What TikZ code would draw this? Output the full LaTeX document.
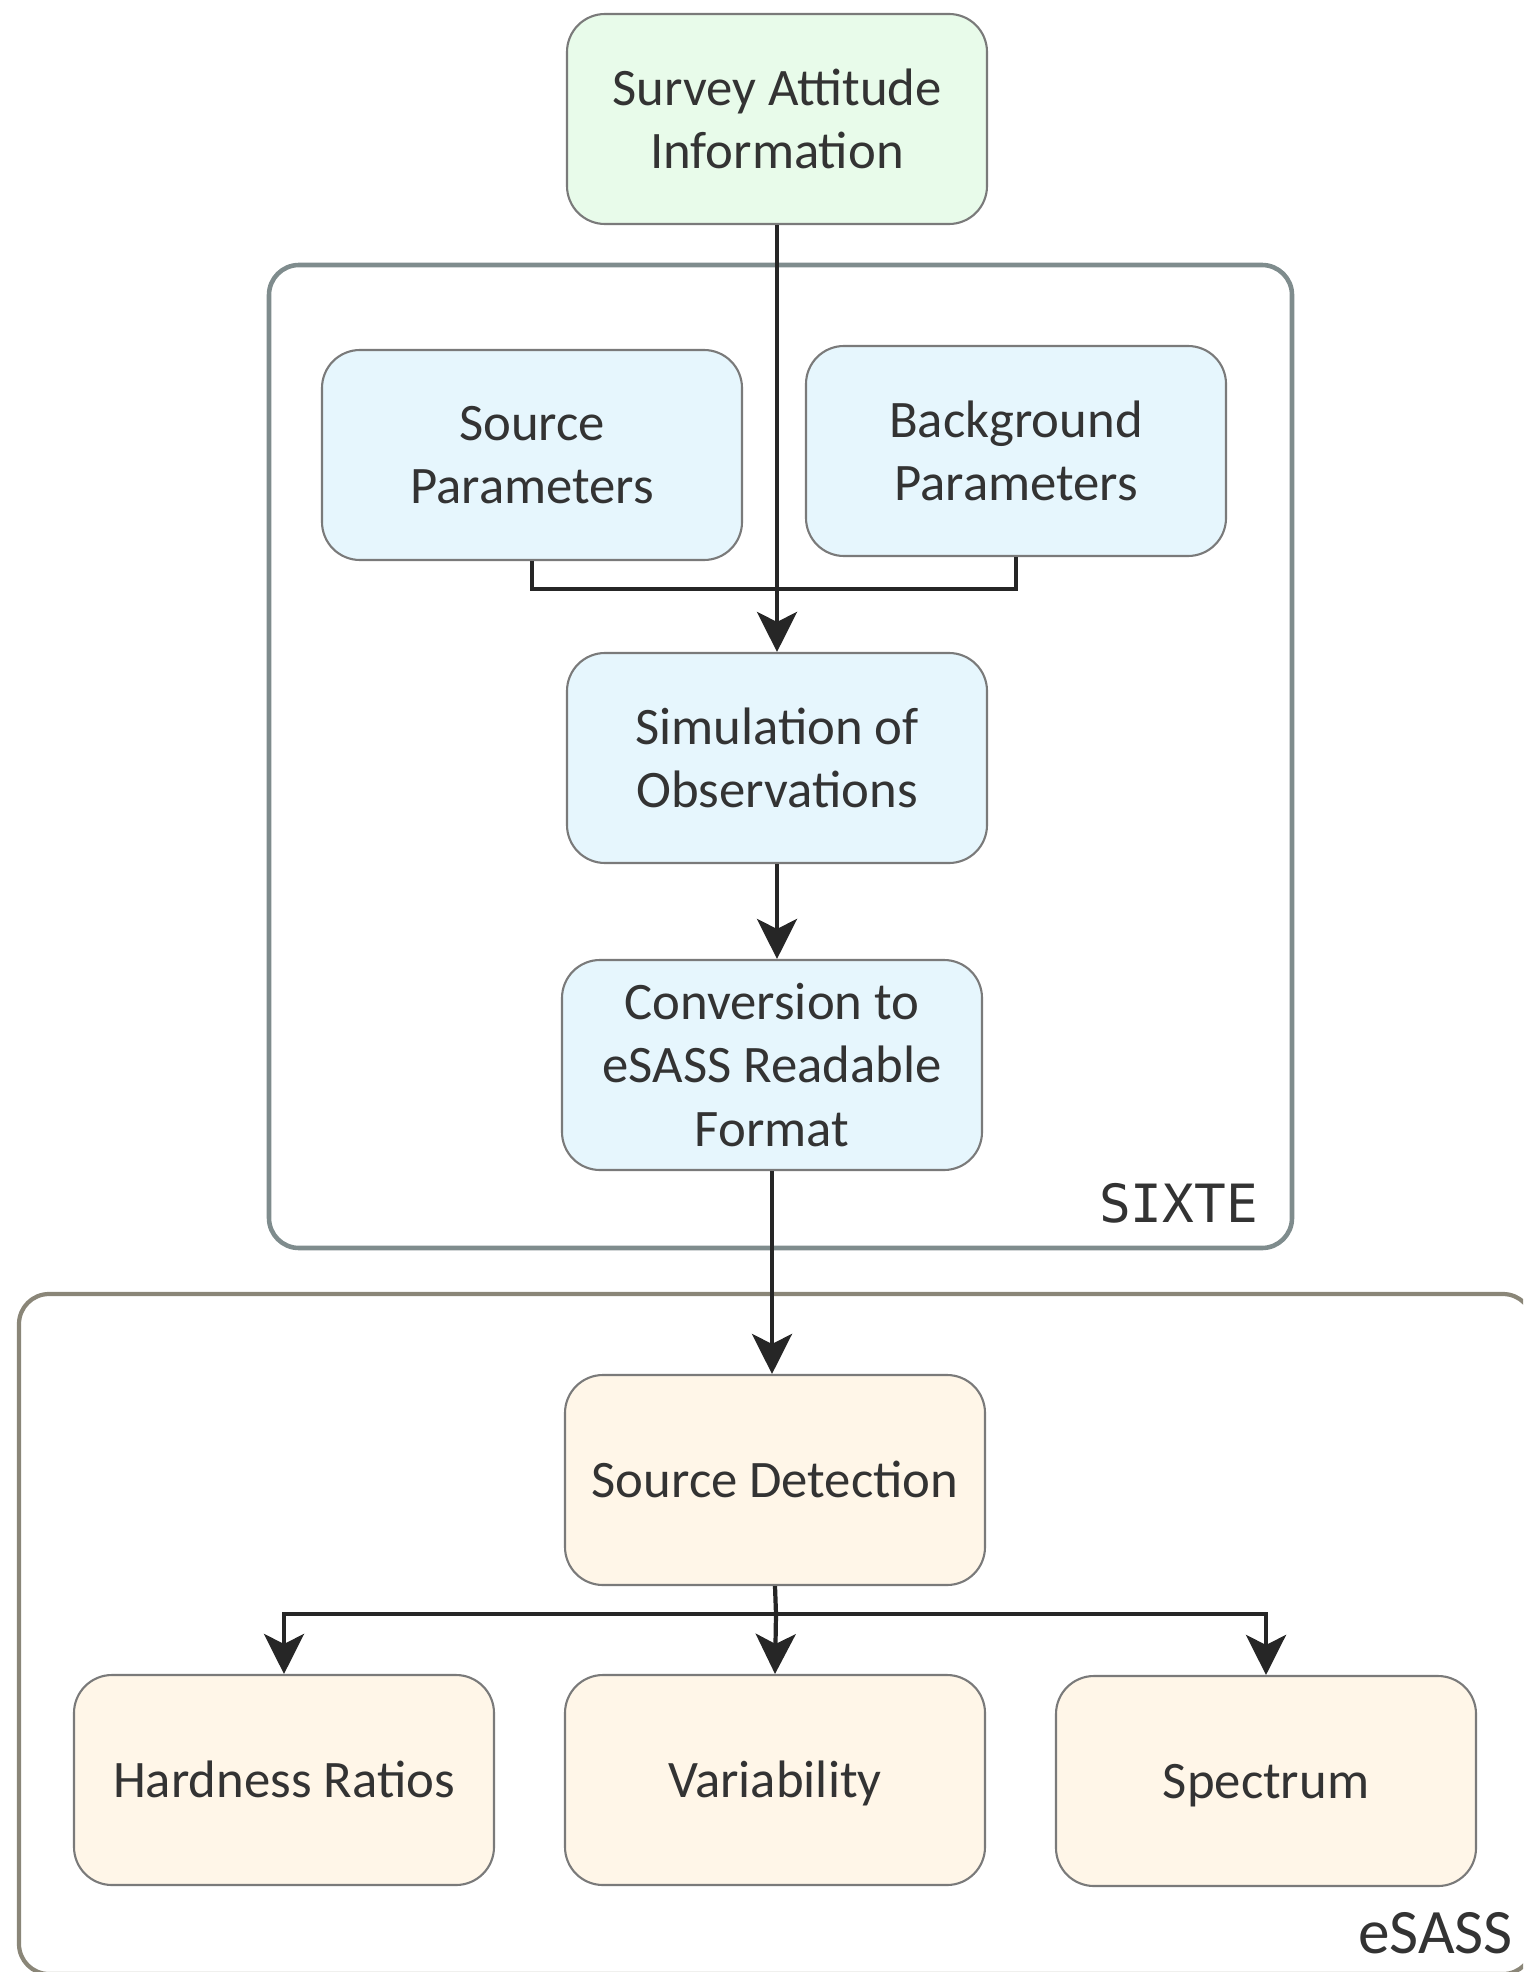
\documentclass[tikz,border=0pt]{standalone}
\usepackage{fontspec}
\setmainfont{Carlito}
\newfontfamily\framefont{DejaVu Sans Mono}
\usetikzlibrary{arrows.meta, positioning}

\definecolor{textgray}{HTML}{333333}
\definecolor{edgegray}{HTML}{7A7A7A}
\definecolor{arrowgray}{HTML}{262626}
\definecolor{attgreen}{HTML}{E8FBEA}
\definecolor{simblue}{HTML}{E6F6FD}
\definecolor{esasscream}{HTML}{FFF6E8}
\definecolor{sixteframe}{HTML}{7F8C8D}
\definecolor{esassframe}{HTML}{8A8678}

\begin{document}
\begin{tikzpicture}[->, >={Stealth[length=4mm, width=4mm, inset=1mm]}, line width=1.2pt, draw=arrowgray, text=textgray]
        \tikzstyle{block}=[draw=edgegray, line width=0.6pt, rounded corners=0.38cm, minimum width=4.2cm, minimum height=2.1cm, align=center, font=\fontsize{15}{18}\selectfont]
        \tikzstyle{oneline}=[text height=9.7pt, text depth=0pt]
        \tikzstyle{attitude}=[block, fill=attgreen]
        \tikzstyle{sixte}=[block, fill=simblue]
        \tikzstyle{esass}=[block, fill=esasscream]

        \clip (0,0) rectangle (15.23,-19.72);

        % The two software frames
        \draw[-, draw=sixteframe, line width=1.3pt, rounded corners=0.3cm] (2.69,-2.65) rectangle (12.92,-12.48);
        \draw[-, draw=esassframe, line width=1.2pt, rounded corners=0.3cm] (0.19,-12.94) rectangle (15.33,-19.74);
        \node[anchor=base east, inner sep=0pt, font=\framefont\fontsize{15}{18}\selectfont] (sixtelabel) at (12.60,-12.22) {SIXTE};
        \node[anchor=base east, inner sep=0pt, font=\fontsize{18}{21}\selectfont] (esasslabel) at (15.15,-19.53) {eSASS};

        % Define the blocks
        \node[attitude] (survey) at (7.77,-1.19) {Survey Attitude\\Information};
        \node[sixte] (source) at (5.32,-4.55) {Source\\Parameters};
        \node[sixte] (bkg) at (10.16,-4.51) {Background\\Parameters};
        \node[sixte] (sim) at (7.77,-7.58) {Simulation of\\Observations};
        \node[sixte] (conv) at (7.72,-10.65) {Conversion to\\eSASS Readable\\Format};
        \node[esass, oneline] (detect) at (7.75,-14.80) {Source Detection};
        \node[esass, oneline] (hard) at (2.84,-17.80) {Hardness Ratios};
        \node[esass, oneline] (var) at (7.75,-17.80) {Variability};
        \node[esass, oneline] (spec) at (12.66,-17.81) {Spectrum};

        \coordinate (join) at (7.77,-5.89);
        \coordinate (split) at (7.76,-16.14);

        % Connect the blocks
        \draw[-] (source.south) |- (join) -| (bkg.south);
        \draw (survey.south) -- (sim.north);
        \draw (sim.south) -- (sim.south |- conv.north);
        \draw (conv.south) -- (conv.south |- detect.north);
        \draw[-] (detect.south) -- (split);
        \draw (split) -| (hard.north);
        \draw (split) -- (var.north);
        \draw (split) -| (spec.north);

\end{tikzpicture}
\end{document}
